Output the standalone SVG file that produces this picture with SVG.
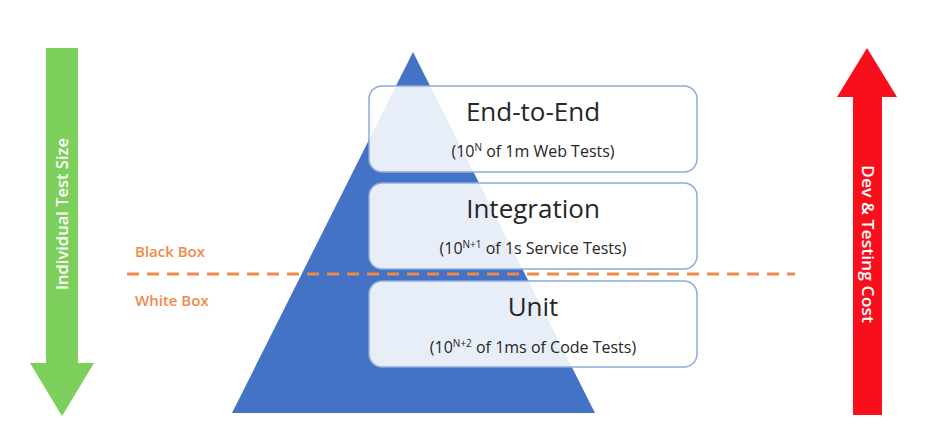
<svg xmlns="http://www.w3.org/2000/svg" width="935" height="436" viewBox="0 0 935 436">
<style>
  .box { fill: #ffffff; fill-opacity: 0.88; stroke: #8eaadb; stroke-width: 1.5; }
  .title { font-family: "Open Sans", "Liberation Sans", sans-serif; font-size: 26px; fill: #262626; text-anchor: middle; }
  .sub { font-family: "Open Sans", "Liberation Sans", sans-serif; font-size: 16px; fill: #262626; text-anchor: middle; }
  .sup { font-size: 10px; }
  .arrowtxt { font-family: "Open Sans", "Liberation Sans", sans-serif; font-size: 16.5px; font-weight: 600; fill: #ffffff; text-anchor: middle; }
  .zone { font-family: "Open Sans", "Liberation Sans", sans-serif; font-size: 15px; font-weight: 600; fill: #f08a4b; }
</style>
<rect width="935" height="436" fill="#ffffff"/>
<g id="size-arrow">
  <polygon points="46,48 78,48 78,363 94,363 62,416 30,363 46,363" fill="#7ccf5a"/>
  <text class="arrowtxt" transform="translate(68,214) rotate(-90)" textLength="152" lengthAdjust="spacingAndGlyphs">Individual Test Size</text>
</g>
<g id="cost-arrow">
  <polygon points="853,415 882,415 882,97 897,97 867,48 837,97 853,97" fill="#f90f1c"/>
  <text class="arrowtxt" transform="translate(862,244) rotate(90)" textLength="158" lengthAdjust="spacingAndGlyphs">Dev &amp; Testing Cost</text>
</g>
<g id="pyramid">
  <polygon points="413,52 595,413 232,413" fill="#4472c4"/>
</g>
<g id="connectors">
  <line x1="127" y1="274" x2="795" y2="274" stroke="#f08a4b" stroke-width="3" stroke-dasharray="12 8"/>
</g>
<g id="zone-labels">
  <text class="zone" x="135" y="257">Black Box</text>
  <text class="zone" x="135" y="306">White Box</text>
</g>
<g id="end-to-end">
  <rect class="box" x="369" y="86" width="328" height="86" rx="13"/>
  <text class="title" x="533" y="121">End-to-End</text>
  <text class="sub" x="533" y="157">(10<tspan class="sup" dy="-6">N</tspan><tspan dy="6"> of 1m Web Tests)</tspan></text>
</g>
<g id="integration">
  <rect class="box" x="369" y="183" width="328" height="86" rx="13"/>
  <text class="title" x="533" y="218">Integration</text>
  <text class="sub" x="533" y="254">(10<tspan class="sup" dy="-6">N+1</tspan><tspan dy="6"> of 1s Service Tests)</tspan></text>
</g>
<g id="unit">
  <rect class="box" x="369" y="281" width="328" height="86" rx="13"/>
  <text class="title" x="533" y="316">Unit</text>
  <text class="sub" x="533" y="353">(10<tspan class="sup" dy="-6">N+2</tspan><tspan dy="6"> of 1ms of Code Tests)</tspan></text>
</g>
</svg>
